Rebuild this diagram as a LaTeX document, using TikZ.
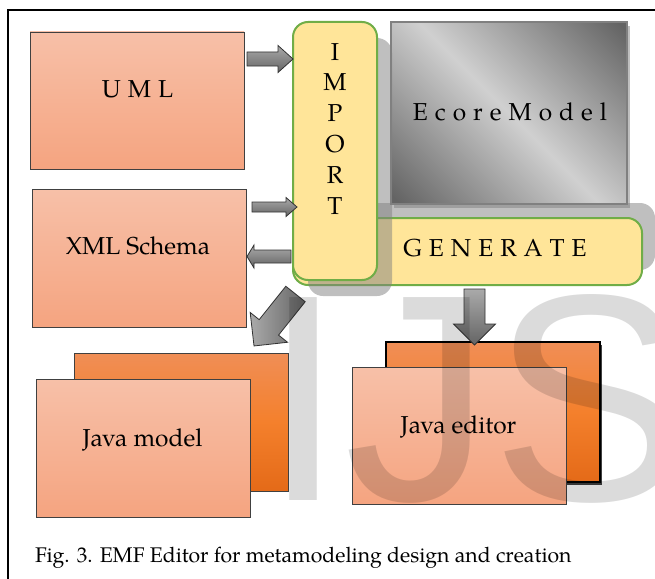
\documentclass[tikz,border=0pt]{standalone}
\usepackage{fontspec}
\setmainfont{TeX Gyre Pagella}
\newfontfamily\wmfont{Liberation Sans}
\usetikzlibrary{shadows}

\definecolor{salmtop}{RGB}{247,192,168}
\definecolor{salmbot}{RGB}{245,164,128}
\definecolor{orgtop}{RGB}{240,142,86}
\definecolor{orgmid}{RGB}{244,128,44}
\definecolor{orgbot}{RGB}{228,106,24}
\definecolor{impfill}{RGB}{255,229,153}
\definecolor{impdraw}{RGB}{112,173,71}
\definecolor{ecdark}{RGB}{100,100,100}
\definecolor{eclight}{RGB}{208,208,208}
\definecolor{arlight}{RGB}{170,170,170}
\definecolor{ardark}{RGB}{100,100,100}

% diagonal grey ramp of the Ecore model box: dark corners, light band
\pgfdeclarehorizontalshading{ecoreshade}{100bp}{color(0bp)=(ecdark); color(16bp)=(ecdark); color(50bp)=(eclight); color(84bp)=(ecdark); color(100bp)=(ecdark)}

% letter spacing used in the spaced titles
\newcommand\lsk{\kern7pt}

\tikzset{
  box/.style={draw=black!75, line width=0.9pt, minimum width=214pt, inner sep=0pt, outer sep=0pt},
  salmonbox/.style={box, top color=salmtop, bottom color=salmbot},
  orangebox/.style={box, top color=orgtop, bottom color=orgbot, middle color=orgmid},
  softshadow/.style={general shadow={fill=black!50, opacity=0.5, #1}},
  roundbox/.style={draw=impdraw, line width=2pt, fill=impfill, rounded corners=15pt, inner sep=0pt},
  lbl/.style={font=\fontsize{24.5}{29}\selectfont, inner sep=0pt, anchor=base},
  capt/.style={font=\fontsize{21.2}{26}\selectfont, inner sep=0pt, anchor=base west},
  wm/.style={font=\wmfont\fontsize{295}{300}\selectfont, text=black, text opacity=0.14, inner sep=0pt, anchor=base west},
  arrowshade/.style={top color=arlight, bottom color=ardark},
  pics/blockarrow/.style n args={4}{code={
    \path[draw=black!80, line width=0.8pt, line join=miter, arrowshade]
      (0,-#2) -- (#1-#4,-#2) -- (#1-#4,-#3) -- (#1,0) -- (#1-#4,#3) -- (#1-#4,#2) -- (0,#2) -- cycle;
  }},
}

\begin{document}
\begin{tikzpicture}[x=1pt, y=-1pt]
\useasboundingbox (0,0) rectangle (655,578);
\fill[white] (0,0) rectangle (655,578);

% frame
\draw[line width=2pt] (7.5,580) -- (7.5,10.5) -- (657,10.5);

% input models
\node[salmonbox, minimum height=137pt] (uml) at (137,100.5) {};
\node[lbl] (umltext) at (137.5,97) {U\lsk M\lsk L};
\node[salmonbox, minimum height=138pt] (xml) at (139,258) {};
\node[lbl] (xmltext) at (138,254) {XML Schema};

% Ecore model
\node[draw=black!50, line width=2pt, shade, shading=ecoreshade, shading angle=45,
      minimum width=236pt, minimum height=182pt, inner sep=0pt,
      softshadow={shadow xshift=3pt, shadow yshift=-4pt}] (ecore) at (509,113) {};
\node[lbl] (ecoretext) at (510,120) {E\lsk c\lsk o\lsk r\lsk e\lsk M\lsk o\lsk d\lsk e\lsk l};

% generate bar
\node[roundbox, minimum width=349pt, minimum height=67pt,
      softshadow={shadow xshift=13pt, shadow yshift=15pt}] (gen) at (467.5,251.5) {};
\node[lbl] (gentext) at (495,256) {G\lsk E\lsk N\lsk E\lsk R\lsk A\lsk T\lsk E};

% import column
\node[roundbox, minimum width=84pt, minimum height=258pt,
      softshadow={shadow xshift=15pt, shadow yshift=-16pt}] (imp) at (335,151) {};
\foreach \c [count=\i from 0] in {I,M,P,O,R,T}
  \node[lbl] (imp\c) at (335,60+30.8*\i) {\c};

% generated Java model
\node[orangebox, minimum height=138pt] (jmback) at (181,422) {};
\node[salmonbox, minimum height=138pt] (jm) at (143,448) {};
\node[lbl] (jmtext) at (142.5,446) {Java model};

% generated Java editor
\node[orangebox, draw=black, line width=1.4pt, minimum height=140pt,
      general shadow={fill=black!75, shadow xshift=2pt, shadow yshift=-3pt}] (jeback) at (493,412) {};
\node[salmonbox, minimum height=137pt] (je) at (459,435.5) {};
\node[lbl] (jetext) at (458.5,433) {Java editor};

% block arrows
\pic (arUml) at (247,59) {blockarrow={46}{7}{13.5}{15}};
\pic (arXmlIn) at (252,207) {blockarrow={45}{5}{9.5}{11}};
\pic[rotate=180] (arXmlOut) at (291,256.5) {blockarrow={44}{6.5}{11.5}{7}};
\pic[rotate=-128.6, arrowshade/.style={left color=arlight, right color=ardark}] (arModel) at (295.5,294) {blockarrow={66.5}{12.4}{23.9}{23.8}};
\pic[rotate=-90] (arEditor) at (474.5,289) {blockarrow={56}{10.5}{21}{21}};

% caption
\node[capt] (caption) at (35,562) {Fig. 3. EMF Editor for metamodeling design and creation};

% watermark
\node[wm] (wmark) at (262,500) {IJS};
\end{tikzpicture}
\end{document}
